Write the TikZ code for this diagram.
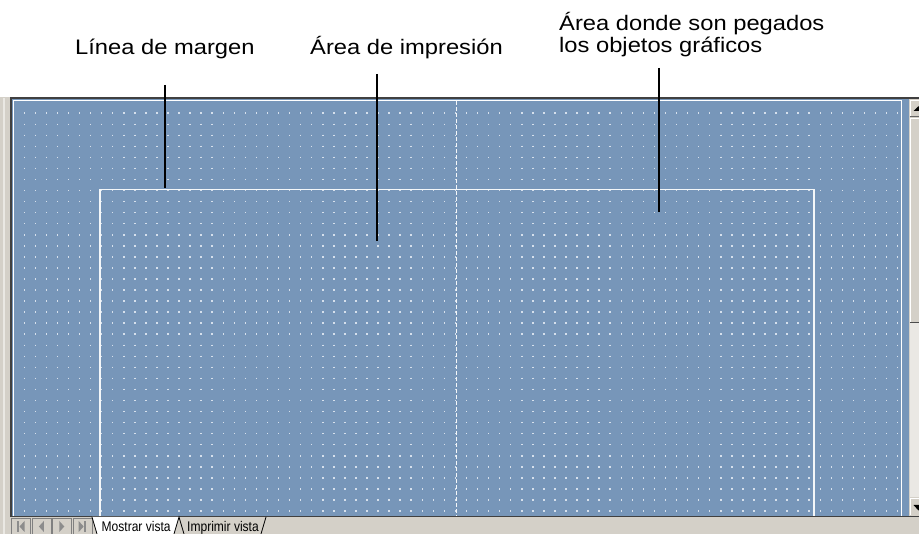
\documentclass[tikz,border=0pt]{standalone}
\usepackage{fontspec}
\setmainfont{Liberation Sans}
\newfontfamily\callfont[FakeStretch=1.13]{Liberation Sans}
\newfontfamily\tabfont[FakeStretch=0.86]{Liberation Sans}
\usepackage{tikz}
\usetikzlibrary{positioning}
\definecolor{sheet}{RGB}{119,150,185}
\definecolor{wingray}{RGB}{212,208,200}
\definecolor{winframe}{RGB}{64,64,64}
\definecolor{griddot}{RGB}{214,224,236}
\definecolor{track}{RGB}{234,232,228}
\tikzstyle{callout} = [inner sep=0pt, anchor=base west, font=\callfont\fontsize{21}{24}\selectfont]
\tikzstyle{lead} = [line width=2pt, black]
\tikzstyle{margin} = [line width=1.5pt, white!92!sheet]
\tikzstyle{navbtn} = [rectangle, draw=black!50, fill=wingray, minimum width=19pt, minimum height=16pt, inner sep=0pt]
\tikzstyle{tabtxt} = [inner sep=0pt, anchor=base west, font=\tabfont\fontsize{14}{16}\selectfont]
\tikzstyle{icon} = [fill=black!45]

\begin{document}
\begin{tikzpicture}[x=1pt, y=-1pt]
\useasboundingbox (0,0) rectangle (919,534);
\fill[white] (0,0) rectangle (919,534);

% window
\fill[wingray] (0,97) rectangle (919,534);
\draw[white!50!wingray, line width=2pt] (4,98) -- (4,534);
\fill[sheet] (12,99) rectangle (909,517);

% grid dots
\foreach \k in {0,...,79}
  \draw[griddot, line width=1.5pt, dash pattern=on 1.5pt off 9.55pt]
    ({24.3+11.055*\k},112.5) -- ++(0,404);

% sheet border and margin line
\draw[white, line width=1pt] (13,516) -- (13,101) -- (901,101) -- (901,516);
\draw[margin] (100,516) -- (100,189.5) -- (814,189.5) -- (814,516);
\draw[margin, dash pattern=on 4pt off 2pt] (456.5,101) -- (456.5,516);

% frame
\draw[winframe, line width=2pt] (10,98) -- (919,98);
\draw[winframe, line width=2pt] (11,98) -- (11,517);
\draw[winframe, line width=1.5pt] (10,516.5) -- (919,516.5);

% scrollbar
\fill[wingray] (909.5,99) rectangle (919,117);
\draw[white] (910,117) -- (910,100) -- (919,100);
\draw[black!60] (909.5,116.5) -- (919,116.5);
\fill[black] (913.5,111) -- (918,106.5) -- (919,106.5) -- (919,111) -- cycle;
\fill[wingray] (909.5,117) rectangle (919,323);
\draw[white] (910,322) -- (910,118) -- (919,118);
\draw[black!70, line width=1pt] (909.5,322.5) -- (919,322.5);
\fill[track] (909.5,323) rectangle (919,497);
\fill[wingray] (909.5,497) rectangle (919,515.5);
\draw[white] (910,515) -- (910,498) -- (919,498);
\fill[black] (913.5,505) -- (919,505) -- (919,510.5) -- (918.5,510.5) -- cycle;

% tab bar
\node (nb1) [navbtn] at (21,526.5) {};
\node (nb2) [navbtn, right=1pt of nb1] {};
\node (nb3) [navbtn, right=1pt of nb2] {};
\node (nb4) [navbtn, right=1pt of nb3] {};
\fill[icon] ([xshift=-4pt]nb1.center) ++(0,-5.5) rectangle ++(2,11);
\fill[icon] ([xshift=-1.5pt]nb1.center) -- ++(5,-5.5) -- ++(0,11) -- cycle;
\fill[icon] ([xshift=-2.5pt]nb2.center) -- ++(5,-5.5) -- ++(0,11) -- cycle;
\fill[icon] ([xshift=2.5pt]nb3.center) -- ++(-5,-5.5) -- ++(0,11) -- cycle;
\fill[icon] ([xshift=1.5pt]nb4.center) -- ++(-5,-5.5) -- ++(0,11) -- cycle;
\fill[icon] ([xshift=2pt]nb4.center) ++(0,-5.5) rectangle ++(2,11);

\fill[white] (92,517) -- (97,534) -- (174,534) -- (179,517) -- cycle;
\draw[black, line width=0.8pt] (92,517) -- (97,534);
\draw[black, line width=0.8pt] (174,534) -- (179,517) -- (184,534);
\draw[black, line width=0.8pt] (261,534) -- (266,517);
\node (mv) [tabtxt] at (101.5,531.5) {Mostrar vista};
\node (iv) [tabtxt] at (187,531.5) {Imprimir vista};

% callouts
\node (lm) [callout] at (75,55) {Línea de margen};
\node (ai) [callout] at (310,55) {Área de impresión};
\node (gr1) [callout] at (559,30.5) {Área donde son pegados};
\node (gr2) [callout] at ([yshift=-22.5pt]gr1.base west) {los objetos gráficos};

\coordinate (lmA) at (165,85);
\coordinate (lmB) at (165,188);
\coordinate (aiA) at (377,74);
\coordinate (aiB) at (377,241);
\coordinate (grA) at (659,68);
\coordinate (grB) at (659,212);
\draw [lead] (lmA) -- (lmB);
\draw [lead] (aiA) -- (aiB);
\draw [lead] (grA) -- (grB);

\end{tikzpicture}
\end{document}
